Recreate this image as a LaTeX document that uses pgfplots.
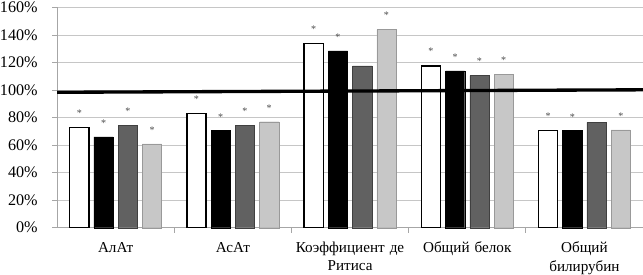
\documentclass[border=0pt]{standalone}
\usepackage{pgfplots}
\pgfplotsset{compat=1.18}
\usepackage{fontspec}
\setmainfont{Liberation Serif}
\begin{document}
\begin{tikzpicture}[trim axis right]
\begin{axis}[
  scale only axis, width=580pt, height=218pt,
  ybar=5pt, bar width=19pt,
  xmin=-0.5, xmax=4.5, ymin=0, ymax=160,
  ytick={0,20,...,160},
  yticklabel={\pgfmathprintnumber{\tick}\%},
  /pgf/number format/assume math mode=true,
  ymajorgrids, grid style={gray!45, line width=0.6pt},
  xtick={0,1,2,3,4},
  xticklabels={АлАт, АсАт, {Коэффициент де\\Ритиса}, {Общий белок}, {Общий\\билирубин}},
  xticklabel style={align=center, text width=110pt, inner sep=0pt, yshift=-9pt, font=\fontsize{15}{18}\selectfont},
  yticklabel style={inner xsep=0pt, inner ysep=2pt, xshift=-14pt, font=\fontsize{16}{17}\selectfont},
  major x tick style={draw=none},
  minor xtick={0.5,1.5,2.5,3.5},
  minor tick length=5pt, tick align=outside, major tick length=5pt,
  axis x line*=bottom, axis y line*=left,
  axis line style={gray!70, line width=0.8pt},
  tick style={gray!70, line width=0.8pt},
  point meta=explicit symbolic,
  nodes near coords,
  every node near coord/.append style={font=\fontsize{10}{10}\selectfont, text=black!70, yshift=7pt},
  clip=false,
]
\addplot[draw=black, line width=1.2pt, fill=white] coordinates {(0,73) [*] (1,83) [*] (2,134) [*] (3,117.5) [*] (4,70.5) [*]};
\addplot[draw=black, fill=black] coordinates {(0,66) [*] (1,70.5) [*] (2,128.5) [*] (3,114) [*] (4,70.5) [*]};
\addplot[draw=black!75, fill=black!62] coordinates {(0,74.5) [*] (1,74.5) [*] (2,117.5) [] (3,110.5) [*] (4,76.5) []};
\addplot[draw=black!40, fill=black!22] coordinates {(0,61) [*] (1,77) [*] (2,144) [*] (3,111.5) [*] (4,71) [*]};
\addplot[sharp plot, bar shift=0pt, black, line width=3.3pt, nodes near coords={}, forget plot] coordinates {(-0.5,98.4) (4.5,100.2)};
\end{axis}
\end{tikzpicture}
\end{document}
